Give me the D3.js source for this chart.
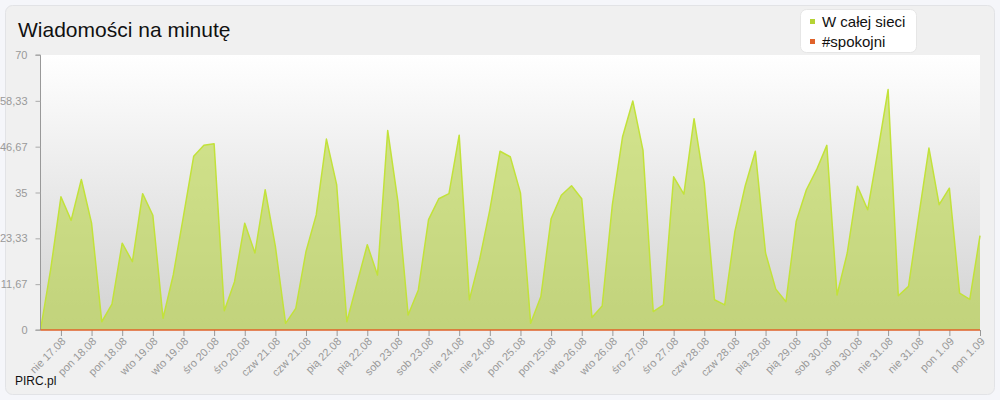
<!DOCTYPE html>
<html><head><meta charset="utf-8">
<script src="https://cdn.jsdelivr.net/npm/d3@7/dist/d3.min.js"></script>
<style>
html,body{margin:0;padding:0;background:#f5f6fa;}
svg{display:block;font-family:"Liberation Sans",Arial,sans-serif;}
</style></head><body>
<svg id="c" width="1000" height="400"></svg>
<script>
const title = "Wiadomości na minutę";
const seriesNames = ["W całej sieci", "#spokojni"];
const seriesColors = ["#b5d334", "#e0622a"];
const allValues = [0,15.5,33.9,27.9,38.3,27.2,2.1,6.6,22.1,17.4,34.7,29.2,3.0,14.0,29.0,44.2,47.0,47.4,4.9,12.3,27.2,19.6,35.7,21.3,1.7,5.5,20.0,29.3,48.6,37.0,
2.1,11.9,21.7,14.0,50.8,32.7,3.8,10.2,28.1,33.4,34.7,49.6,7.7,17.9,30.6,45.5,44.1,34.9,1.7,8.5,28.3,34.3,36.7,33.4,3.2,6.1,31.9,49.2,58.3,45.7,
4.7,6.4,39.0,34.6,53.8,37.4,7.7,6.4,25.1,36.6,45.5,19.6,10.4,7.2,27.6,35.7,40.8,47.0,8.9,19.6,36.6,30.6,45.5,61.2,8.7,11.1,28.9,46.3,31.9,36.1,9.4,7.8,24.0];
const spokojniValues = allValues.map(() => 0);
const xTickLabels = ["nie 17.08","pon 18.08","pon 18.08","wto 19.08","wto 19.08","śro 20.08","śro 20.08","czw 21.08","czw 21.08","pią 22.08","pią 22.08","sob 23.08","sob 23.08","nie 24.08","nie 24.08","pon 25.08","pon 25.08","wto 26.08","wto 26.08","śro 27.08","śro 27.08","czw 28.08","czw 28.08","pią 29.08","pią 29.08","sob 30.08","sob 30.08","nie 31.08","nie 31.08","pon 1.09","pon 1.09"];
const yTicks = [0, 70/6, 140/6, 35, 280/6, 350/6, 70];
const yTickLabels = ["0","11,67","23,33","35","46,67","58,33","70"];
const firstTickIndex = 2, tickStep = 3;
const sourceLabel = "PIRC.pl";

const svg = d3.select("#c");
const L = 40.5, R = 980, T = 55, B = 330;
const FONT = "'Liberation Sans',Arial,sans-serif";

svg.append("rect").attr("x",5.5).attr("y",5.5).attr("width",989).attr("height",389)
  .attr("rx",7).attr("fill","#f0f0f0").attr("stroke","#e2e3e6");

const defs = svg.append("defs");
const bg = defs.append("linearGradient").attr("id","bg").attr("x1",0).attr("x2",0).attr("y1",0).attr("y2",1);
bg.append("stop").attr("offset","0%").attr("stop-color","#ffffff");
bg.append("stop").attr("offset","100%").attr("stop-color","#d2d2d2");

const x = d3.scaleLinear().domain([0, allValues.length-1]).range([L, R]);
const y = d3.scaleLinear().domain([0,70]).range([B, T]);

svg.append("rect").attr("x",L).attr("y",T).attr("width",R-L).attr("height",B-T).attr("fill","url(#bg)");

const area = d3.area().x((d,i)=>x(i)).y0(y(0)).y1(d=>y(d));
const line = d3.line().x((d,i)=>x(i)).y(d=>y(d));
svg.append("path").datum(allValues).attr("d",area).attr("fill",seriesColors[0]).attr("fill-opacity",0.55);
svg.append("path").datum(allValues).attr("d",line).attr("fill","none").attr("stroke","#c2e23a").attr("stroke-width",1.5).attr("stroke-linejoin","round");

const yAxis = d3.axisLeft(y).tickValues(yTicks).tickSize(5).tickPadding(8)
  .tickFormat((d,i)=>yTickLabels[i]);
const gy = svg.append("g").attr("transform",`translate(${L},0)`).call(yAxis);
gy.select(".domain").attr("stroke","#999").attr("d",`M-5,${T}H0V${B}H-5`);
gy.selectAll(".tick line").attr("stroke","#aaa");
gy.selectAll("text").attr("fill","#999").attr("font-size",11).style("font-family",FONT);

const tickIdx = xTickLabels.map((_,k)=>firstTickIndex + k*tickStep);
const xAxis = d3.axisBottom(x).tickValues(tickIdx).tickSize(6).tickFormat((d,k)=>xTickLabels[k]);
const gx = svg.append("g").attr("transform",`translate(0,${B})`).call(xAxis);
gx.select(".domain").remove();
gx.selectAll(".tick line").attr("stroke","#999");
gx.selectAll("text").attr("fill","#999").attr("font-size",11)
  .style("font-family",FONT)
  .attr("text-anchor","end").attr("dy",null).attr("y",0)
  .attr("transform","translate(5,12) rotate(-45)");

svg.append("path").datum(spokojniValues).attr("d",line).attr("fill","none").attr("stroke",seriesColors[1]).attr("stroke-width",1.5);

svg.append("text").attr("x",18).attr("y",37).attr("font-size",21).attr("fill","#111").text(title);

const lg = svg.append("g");
lg.append("rect").attr("x",800.5).attr("y",9.5).attr("width",116).attr("height",43).attr("rx",6)
  .attr("fill","#fff").attr("stroke","#e6e6e6");
seriesNames.forEach((n,i)=>{
  const yy = 21.5 + i*20;
  lg.append("rect").attr("x",810).attr("y",yy-2.5).attr("width",5).attr("height",5).attr("fill",seriesColors[i]);
  lg.append("text").attr("x",822).attr("y",yy+5).attr("font-size",15).attr("fill","#111").text(n);
});

svg.append("text").attr("x",15).attr("y",385).attr("font-size",12).attr("fill","#111").text(sourceLabel);
</script>
</body></html>
